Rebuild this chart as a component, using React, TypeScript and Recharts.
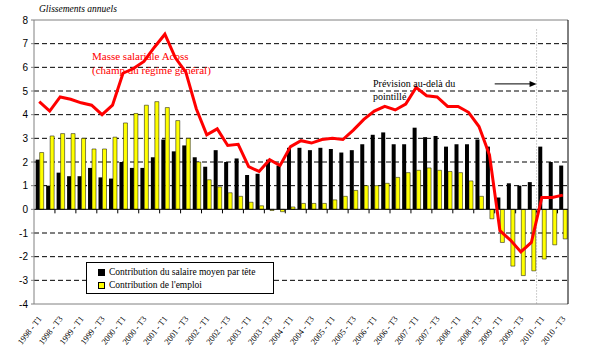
import React from "react";
import {
  ComposedChart,
  Bar,
  Line,
  XAxis,
  YAxis,
  CartesianGrid,
  ReferenceLine,
} from "recharts";

// Quarters 1998-T1 .. 2010-T3
const quarters = [
  "1998 - T1", "1998 - T2", "1998 - T3", "1998 - T4",
  "1999 - T1", "1999 - T2", "1999 - T3", "1999 - T4",
  "2000 - T1", "2000 - T2", "2000 - T3", "2000 - T4",
  "2001 - T1", "2001 - T2", "2001 - T3", "2001 - T4",
  "2002 - T1", "2002 - T2", "2002 - T3", "2002 - T4",
  "2003 - T1", "2003 - T2", "2003 - T3", "2003 - T4",
  "2004 - T1", "2004 - T2", "2004 - T3", "2004 - T4",
  "2005 - T1", "2005 - T2", "2005 - T3", "2005 - T4",
  "2006 - T1", "2006 - T2", "2006 - T3", "2006 - T4",
  "2007 - T1", "2007 - T2", "2007 - T3", "2007 - T4",
  "2008 - T1", "2008 - T2", "2008 - T3", "2008 - T4",
  "2009 - T1", "2009 - T2", "2009 - T3", "2009 - T4",
  "2010 - T1", "2010 - T2", "2010 - T3",
];

// Contribution du salaire moyen par tête (black bars)
const salaireMoyen = [
  2.1, 1.0, 1.55, 1.4, 1.4, 1.75, 1.35, 1.3, 2.0, 1.75, 1.75, 2.2, 2.95,
  2.45, 2.7, 2.2, 1.8, 2.5, 2.0, 2.15, 1.45, 1.5, 2.1, 1.85, 2.6, 2.6,
  2.5, 2.6, 2.55, 2.4, 2.5, 2.75, 3.15, 3.25, 2.75, 2.75, 3.45, 3.05,
  3.1, 2.65, 2.75, 2.75, 2.95, 2.65, 0.5, 1.1, 1.0, 1.15, 2.65, 2.0, 1.85,
];

// Contribution de l'emploi (yellow bars)
const emploi = [
  2.4, 3.1, 3.2, 3.2, 3.0, 2.55, 2.55, 3.05, 3.65, 4.05, 4.4, 4.55, 4.3,
  3.75, 3.0, 2.0, 1.25, 0.95, 0.7, 0.55, 0.3, 0.15, -0.05, -0.1, 0.1, 0.25,
  0.25, 0.25, 0.4, 0.55, 0.8, 1.0, 1.0, 1.1, 1.35, 1.55, 1.65, 1.75, 1.65,
  1.6, 1.55, 1.2, 0.55, -0.4, -1.4, -2.4, -2.8, -2.6, -2.1, -1.5, -1.25,
];

// Masse salariale Acoss (red line)
const masseSalariale = [
  4.55, 4.15, 4.75, 4.65, 4.5, 4.4, 4.0, 4.4, 5.75, 5.95, 6.25, 6.85, 7.4,
  6.4, 5.8, 4.25, 3.15, 3.4, 2.7, 2.75, 1.8, 1.6, 2.1, 1.85, 2.65, 2.9,
  2.8, 2.95, 3.0, 2.95, 3.35, 3.8, 4.15, 4.35, 4.2, 4.45, 5.15, 4.8, 4.75,
  4.35, 4.35, 4.1, 3.5, 2.3, -0.9, -1.3, -1.8, -1.4, 0.5, 0.5, 0.6,
];

const yTicks = [-4, -3, -2, -1, 0, 1, 2, 3, 4, 5, 6, 7, 8];
const gridValues = [-3, -2, -1, 1, 2, 3, 4, 5, 6, 7];
const forecastStart = "2010 - T1";
const arrowStart = "2009 - T1";

const data = quarters.map((q, i) => ({
  q,
  salaire: salaireMoyen[i],
  emploi: emploi[i],
  masse: masseSalariale[i],
}));

// tick marks every two quarters on the zero line
const zeroTicks = quarters.filter((_, i) => i > 0 && i % 2 === 0);

const serif = "'Liberation Serif', 'Times New Roman', serif";
const sans = "'Liberation Sans', Arial, sans-serif";

const QuarterTick = (props: any) => {
  const { x, y, payload } = props;
  const tx = x + 3;
  const ty = y + 7;
  return (
    <text
      x={tx}
      y={ty}
      transform={`rotate(-52, ${tx}, ${ty})`}
      textAnchor="end"
      fontSize={8.5}
      fontFamily={serif}
      fill="#000"
    >
      {payload.value}
    </text>
  );
};

const Arrow = (props: any) => {
  const { x1, y1, x2, y2 } = props;
  return (
    <g>
      <line x1={x1} y1={y1} x2={x2 - 5} y2={y2} stroke="#000" strokeWidth={1} />
      <polygon
        points={`${x2},${y2} ${x2 - 7},${y2 - 3} ${x2 - 7},${y2 + 3}`}
        fill="#000"
      />
    </g>
  );
};

export default function App() {
  return (
    <div
      style={{
        position: "absolute",
        left: 0,
        top: 0,
        width: 597,
        height: 353,
        background: "#fff",
      }}
    >
      <ComposedChart
        width={597}
        height={353}
        data={data}
        margin={{ top: 20, right: 5, bottom: 4, left: 8 }}
        barCategoryGap="16%"
        barGap={0}
      >
        <CartesianGrid
          yAxisId="left"
          vertical={false}
          horizontalValues={gridValues}
          stroke="#000"
          strokeDasharray="5 3"
        />
        <XAxis
          dataKey="q"
          interval={1}
          tickLine={false}
          axisLine={{ stroke: "#808080" }}
          height={45}
          tick={<QuarterTick />}
        />
        <YAxis
          yAxisId="left"
          width={26}
          domain={[-4, 8]}
          ticks={yTicks}
          interval={0}
          tickSize={3}
          tickMargin={3}
          axisLine={{ stroke: "#808080" }}
          tickLine={{ stroke: "#808080" }}
          tick={{ fontSize: 10, fill: "#000", fontFamily: sans }}
        />
        <YAxis
          yAxisId="right"
          orientation="right"
          width={24}
          domain={[-4, 8]}
          ticks={yTicks}
          interval={0}
          tickSize={3}
          tickMargin={3}
          axisLine={{ stroke: "#000" }}
          tickLine={{ stroke: "#000" }}
          tick={{ fontSize: 10, fill: "#000", fontFamily: sans }}
        />
        <ReferenceLine yAxisId="left" y={8} stroke="#808080" />
        <Bar
          yAxisId="left"
          dataKey="salaire"
          fill="#000"
          isAnimationActive={false}
        />
        <Bar
          yAxisId="left"
          dataKey="emploi"
          fill="#ffff00"
          stroke="#000"
          strokeWidth={0.5}
          isAnimationActive={false}
        />
        <ReferenceLine yAxisId="left" y={0} stroke="#000" />
        {zeroTicks.map((q) => (
          <ReferenceLine
            key={q}
            yAxisId="left"
            position="start"
            segment={[
              { x: q, y: 0 },
              { x: q, y: -0.17 },
            ]}
            stroke="#000"
          />
        ))}
        <ReferenceLine
          yAxisId="left"
          position="start"
          segment={[
            { x: forecastStart, y: 7.6 },
            { x: forecastStart, y: -4 },
          ]}
          stroke="#a0a0a0"
          strokeDasharray="1 2"
        />
        <ReferenceLine
          yAxisId="left"
          position="start"
          segment={[
            { x: arrowStart, y: 5.3 },
            { x: forecastStart, y: 5.3 },
          ]}
          shape={<Arrow />}
        />
        <Line
          yAxisId="left"
          dataKey="masse"
          type="linear"
          stroke="#ff0000"
          strokeWidth={3}
          dot={false}
          isAnimationActive={false}
        />
      </ComposedChart>

      <div
        style={{
          position: "absolute",
          left: 39,
          top: 4,
          fontFamily: serif,
          fontStyle: "italic",
          fontSize: 9.5,
          color: "#000",
        }}
      >
        Glissements annuels
      </div>

      <div
        style={{
          position: "absolute",
          left: 92,
          top: 50,
          fontFamily: serif,
          fontSize: 11,
          lineHeight: "13.5px",
          color: "#ff0000",
          whiteSpace: "nowrap",
        }}
      >
        Masse salariale Acoss
        <br />
        (champ du régime général)
      </div>

      <div
        style={{
          position: "absolute",
          left: 373,
          top: 77,
          fontFamily: serif,
          fontSize: 10,
          lineHeight: "13px",
          color: "#000",
          whiteSpace: "nowrap",
        }}
      >
        Prévision au-delà du
        <br />
        pointillé
      </div>

      <div
        style={{
          position: "absolute",
          left: 86,
          top: 262,
          width: 186,
          height: 30,
          border: "1px solid #000",
          background: "#fff",
          fontFamily: serif,
          fontSize: 9.5,
          color: "#000",
        }}
      >
        {[
          { label: "Contribution du salaire moyen par tête", color: "#000" },
          { label: "Contribution de l'emploi", color: "#ffff00" },
        ].map((item, i) => (
          <div
            key={item.label}
            style={{
              position: "absolute",
              left: 11,
              top: 4 + i * 13,
              display: "flex",
              alignItems: "center",
              whiteSpace: "nowrap",
              lineHeight: "11px",
            }}
          >
            <span
              style={{
                display: "inline-block",
                width: 5,
                height: 5,
                background: item.color,
                border: "1px solid #000",
                marginRight: 4,
              }}
            />
            {item.label}
          </div>
        ))}
      </div>
    </div>
  );
}
